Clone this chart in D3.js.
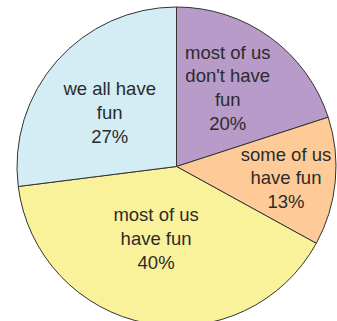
<!DOCTYPE html>
<html>
<head>
<meta charset="utf-8">
<script src="https://cdn.jsdelivr.net/npm/d3@7/dist/d3.min.js"></script>
<style>
  html, body { margin: 0; padding: 0; background: #fff; }
  svg { display: block; }
</style>
</head>
<body>
<svg id="chart" width="337" height="321"></svg>
<script>
// Slices, in clockwise order starting at twelve o'clock
const categories = ["most of us\ndon't have\nfun", "some of us\nhave fun", "most of us\nhave fun", "we all have\nfun"];
const shares = [20, 13, 40, 27];
const colors = ["#b89bc9", "#fecb98", "#f9f29b", "#d4ecf4"];

// Label placement: radius as a fraction of the pie radius, and an angular nudge in degrees
const labelRadiusFrac = [0.59, 0.69, 0.47, 0.54];
const labelAngleNudge = [-3, 0.5, 5, -2.3];

const width = 337, height = 321;
const cx = 176.5, cy = 166.5, radius = 159.5;
const fontSize = 18.5, lineHeight = 23.8;

const svg = d3.select("#chart");
const g = svg.append("g").attr("transform", `translate(${cx},${cy})`);

const data = categories.map((c, i) => ({ label: c, value: shares[i], color: colors[i], idx: i }));

const pie = d3.pie().sort(null).value(d => d.value).startAngle(0).endAngle(2 * Math.PI);
const arcs = pie(data);

const arc = d3.arc().innerRadius(0).outerRadius(radius);

g.selectAll("path.slice")
  .data(arcs)
  .join("path")
  .attr("class", "slice")
  .attr("d", arc)
  .attr("fill", d => d.data.color)
  .attr("stroke", "#333")
  .attr("stroke-width", 1)
  .attr("stroke-linejoin", "round");

const labels = g.selectAll("text.label")
  .data(arcs)
  .join("text")
  .attr("class", "label")
  .attr("text-anchor", "middle")
  .attr("font-family", "'Liberation Sans', Arial, Helvetica, sans-serif")
  .attr("font-size", fontSize)
  .attr("fill", "#2b2b2b")
  .each(function(d) {
    const i = d.data.idx;
    const mid = (d.startAngle + d.endAngle) / 2 + labelAngleNudge[i] * Math.PI / 180;
    const r = labelRadiusFrac[i] * radius;
    const x = Math.sin(mid) * r;
    const y = -Math.cos(mid) * r;
    const lines = d.data.label.split("\n").concat([d3.format(".0f")(d.data.value) + "%"]);
    const n = lines.length;
    const t = d3.select(this);
    // vertical centre of the text block sits at y
    const firstBaseline = y - ((n - 1) * lineHeight) / 2 + fontSize * 0.36;
    lines.forEach((ln, k) => {
      t.append("tspan")
        .attr("x", x)
        .attr("y", firstBaseline + k * lineHeight)
        .text(ln);
    });
  });
</script>
</body>
</html>
